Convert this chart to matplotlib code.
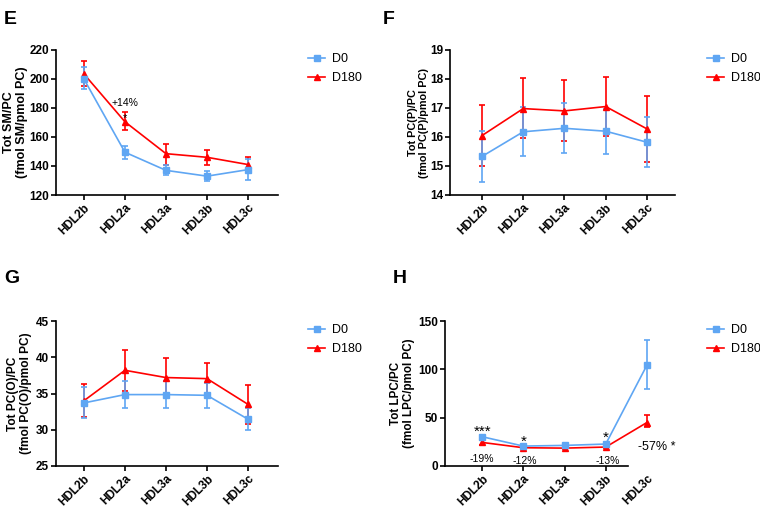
import matplotlib
matplotlib.use("Agg")
import matplotlib.pyplot as plt
from matplotlib.lines import Line2D
import numpy as np

plt.rcParams['font.family'] = ['Liberation Sans', 'DejaVu Sans']

categories = ["HDL2b", "HDL2a", "HDL3a", "HDL3b", "HDL3c"]

# panel E: Tot SM/PC  (mean, lower, upper)
sm_d0 = [200, 149.5, 137, 133, 137.5]
sm_d0_lo = [193, 145, 134, 129.5, 130]
sm_d0_hi = [208, 154, 141, 136.5, 145]
sm_d180 = [203.5, 170.5, 148.5, 146, 141]
sm_d180_lo = [195, 164.5, 141, 141, 137]
sm_d180_hi = [212.5, 177, 155.5, 151, 146]

# panel F: Tot PC(P)/PC
pcp_d0 = [15.33, 16.18, 16.3, 16.2, 15.82]
pcp_d0_lo = [14.45, 15.33, 15.45, 15.42, 14.97]
pcp_d0_hi = [16.22, 17.03, 17.17, 16.98, 16.68]
pcp_d180 = [16.05, 16.98, 16.9, 17.05, 16.28]
pcp_d180_lo = [15.0, 15.95, 15.85, 16.05, 15.15]
pcp_d180_hi = [17.12, 18.03, 17.95, 18.07, 17.43]

# panel G: Tot PC(O)/PC
pco_d0 = [33.7, 34.85, 34.85, 34.75, 31.45]
pco_d0_lo = [31.6, 33.0, 33.0, 33.0, 30.0]
pco_d0_hi = [35.85, 36.7, 36.7, 36.5, 33.0]
pco_d180 = [34.0, 38.2, 37.2, 37.05, 33.5]
pco_d180_lo = [31.7, 35.4, 34.5, 34.8, 30.8]
pco_d180_hi = [36.3, 41.0, 39.9, 39.2, 36.2]

# panel H: Tot LPC/PC
lpc_d0 = [30.3, 20.6, 21.3, 22.7, 104.4]
lpc_d0_lo = [28.3, 19.2, 19.9, 21.2, 80]
lpc_d0_hi = [32.3, 22.0, 22.7, 24.2, 130]
lpc_d180 = [24.4, 18.9, 18.5, 19.6, 45]
lpc_d180_lo = [22.0, 17.5, 17.2, 18.2, 40]
lpc_d180_hi = [26.8, 20.3, 19.8, 21.0, 53]

BLUE = "#5fa6f3"
RED = "#ff0000"
x = np.arange(len(categories))

fig = plt.figure(figsize=(7.6, 5.09), dpi=100)
W, H = 760.0, 509.0


def draw(ax, d0, d0lo, d0hi, d180, d180lo, d180hi, ylim, yticks, ylabel, lab_size,
         xlim, labx, leg_xy):
    for m, lo, hi, c, mk in [(d180, d180lo, d180hi, RED, '^'),
                             (d0, d0lo, d0hi, BLUE, 's')]:
        m = np.array(m)
        err = [m - np.array(lo), np.array(hi) - m]
        ax.errorbar(x, m, yerr=err, color=c, marker=mk, markersize=5, lw=1.2,
                    elinewidth=1.2, capsize=2.5, capthick=1.2, clip_on=False)
    ax.set_xlim(*xlim)
    ax.set_ylim(*ylim)
    ax.set_yticks(yticks)
    ax.set_xticks(x)
    ax.set_xticklabels(categories, rotation=45, ha='right', rotation_mode='anchor',
                       fontweight='bold', fontsize=8.5)
    for t in ax.get_yticklabels():
        t.set_fontweight('bold')
        t.set_fontsize(8.5)
    ax.spines['top'].set_visible(False)
    ax.spines['right'].set_visible(False)
    ax.spines['left'].set_linewidth(1.2)
    ax.spines['bottom'].set_linewidth(1.2)
    ax.tick_params(width=1.2, length=3.5, pad=1.5)
    ax.set_ylabel(ylabel, fontsize=lab_size, fontweight='bold', linespacing=1.1)
    ax.yaxis.set_label_coords(labx, 0.5)
    handles = [Line2D([], [], color=BLUE, marker='s', markersize=5, lw=1.2),
               Line2D([], [], color=RED, marker='^', markersize=5, lw=1.2)]
    ax.legend(handles, ["D0", "D180"], loc='upper left',
              bbox_to_anchor=(leg_xy[0] / W, 1 - leg_xy[1] / H), bbox_transform=fig.transFigure,
              frameon=False, fontsize=9, handlelength=1.36, handletextpad=0.55,
              labelspacing=0.55, borderpad=0, borderaxespad=0)


axE = fig.add_axes([56 / W, 1 - 195 / H, 222 / W, 145 / H])
draw(axE, sm_d0, sm_d0_lo, sm_d0_hi, sm_d180, sm_d180_lo, sm_d180_hi,
     (120, 220), [120, 140, 160, 180, 200, 220], "Tot SM/PC\n(fmol SM/pmol PC)", 9,
     (-0.68, 4.73), -0.128, (308, 53))
axE.text(1, 183.4, "+14%", ha='center', va='center', fontsize=7.5)
axE.text(1, 171, "*", ha='center', va='baseline', fontsize=8)

axF = fig.add_axes([450 / W, 1 - 195 / H, 225 / W, 145 / H])
draw(axF, pcp_d0, pcp_d0_lo, pcp_d0_hi, pcp_d180, pcp_d180_lo, pcp_d180_hi,
     (14, 19), [14, 15, 16, 17, 18, 19], "Tot PC(P)/PC\n(fmol PC(P)/pmol PC)", 7.8,
     (-0.776, 4.68), -0.095, (707, 53))

axG = fig.add_axes([56 / W, 1 - 466 / H, 222 / W, 145 / H])
draw(axG, pco_d0, pco_d0_lo, pco_d0_hi, pco_d180, pco_d180_lo, pco_d180_hi,
     (25, 45), [25, 30, 35, 40, 45], "Tot PC(O)/PC\n(fmol PC(O)/pmol PC)", 8.6,
     (-0.68, 4.73), -0.11, (308, 324))

axH = fig.add_axes([445 / W, 1 - 466 / H, 230 / W, 145 / H])
draw(axH, lpc_d0, lpc_d0_lo, lpc_d0_hi, lpc_d180, lpc_d180_lo, lpc_d180_hi,
     (0, 150), [0, 50, 100, 150], "Tot LPC/PC\n(fmol LPC/pmol PC)", 8.4,
     (-0.9, 4.68), -0.13, (707, 324))
axH.spines['bottom'].set_bounds(-0.9, 3.54)
axH.xaxis.get_major_ticks()[4].tick1line.set_visible(False)
axH.text(0, 31, "***", ha='center', va='baseline', fontsize=11)
axH.text(1, 20.7, "*", ha='center', va='baseline', fontsize=11)
axH.text(3, 24.8, "*", ha='center', va='baseline', fontsize=11)
axH.text(0, 7.2, "-19%", ha='center', va='center', fontsize=7.5)
axH.text(1.04, 5.2, "-12%", ha='center', va='center', fontsize=7.5)
axH.text(3.05, 5.2, "-13%", ha='center', va='center', fontsize=7.5)
axH.text(4.24, 19.7, "-57% *", ha='center', va='center', fontsize=9)

# panel letters
for lx, ly, letter in [(4, 24, "E"), (383, 24, "F"), (4, 283, "G"), (393, 283, "H")]:
    fig.text(lx / W, 1 - ly / H, letter, fontsize=14, fontweight='bold', va='baseline')

fig.savefig("out.png", dpi=100)
